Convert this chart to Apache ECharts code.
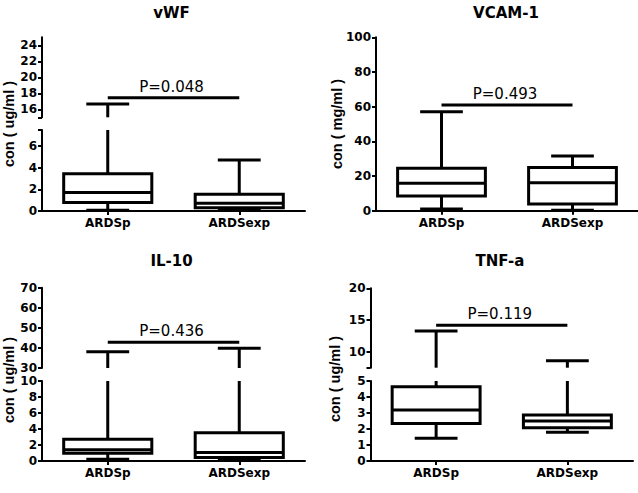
<!DOCTYPE html>
<html><head><meta charset="utf-8">
<script src="https://cdn.jsdelivr.net/npm/echarts@6/dist/echarts.min.js"></script>
<style>html,body{margin:0;padding:0;background:#fff}#c{width:638px;height:493px}</style>
</head><body><div id="c"></div>
<script>
const categories = ['ARDSp', 'ARDSexp'];
// each row: [min, Q1, median, Q3, max]
const vwfValues = [[0.07, 0.78, 1.71, 3.45, 16.66], [0.12, 0.3, 0.72, 1.56, 4.73]];
const vcamValues = [[1.0, 8.5, 15.8, 24.5, 57.1], [0.2, 3.9, 16.1, 24.9, 31.5]];
const il10Values = [[0.22, 0.96, 1.4, 2.73, 38.1], [0.19, 0.44, 1.05, 3.54, 39.8]];
const tnfValues = [[1.42, 2.35, 3.19, 4.64, 13.26], [1.79, 2.08, 2.5, 2.88, 8.6]];

const pLabels = ['P=0.048', 'P=0.493', 'P=0.436', 'P=0.119'];
const pLevels = [17.45, 61, 42.8, 14.2];

const vwfTopLabels = [16, 18, 20, 22, 24];
const vwfTopTicks = [15, 16, 18, 20, 22, 24];
const vwfBottomLabels = [0, 2, 4, 6];
const vwfBottomTicks = [0, 2, 4, 6, 7.5];
const vcamLabels = [0, 20, 40, 60, 80, 100];
const il10TopLabels = [30, 40, 50, 60, 70];
const il10BottomLabels = [0, 2, 4, 6, 8, 10];
const tnfTopLabels = [10, 15, 20];
const tnfTopTicks = [7.5, 10, 15, 20];
const tnfBottomLabels = [0, 1, 2, 3, 4, 5];

const titles = ['vWF', 'VCAM-1', 'IL-10', 'TNF-a'];
const yNames = ['con ( ug/ml )', 'con ( mg/ml )', 'con ( ug/ml )', 'con ( ug/ml )'];

// layout (pixels)
const panels = [
  {values: vwfValues, titleX: 171.5, titleY: 12.5, nameX: 9, nameY: 124, left: 42, width: 263,
   segs: [{top: 37.3, height: 80, min: 15, max: 25, labels: vwfTopLabels, ticks: vwfTopTicks},
          {top: 130, height: 81, min: 0, max: 7.5, labels: vwfBottomLabels, ticks: vwfBottomTicks}]},
  {values: vcamValues, titleX: 506, titleY: 12.5, nameX: 336.5, nameY: 124, left: 376, width: 262,
   segs: [{top: 37.3, height: 173.4, min: 0, max: 100, labels: vcamLabels, ticks: vcamLabels}]},
  {values: il10Values, titleX: 171.5, titleY: 261, nameX: 9, nameY: 380, left: 42, width: 263,
   segs: [{top: 287.7, height: 80.3, min: 30, max: 70, labels: il10TopLabels, ticks: il10TopLabels},
          {top: 381, height: 80, min: 0, max: 10, labels: il10BottomLabels, ticks: il10BottomLabels}]},
  {values: tnfValues, titleX: 500, titleY: 261, nameX: 334.7, nameY: 379, left: 370.5, width: 262.5,
   segs: [{top: 288.3, height: 79.4, min: 7.5, max: 20, labels: tnfTopLabels, ticks: tnfTopTicks},
          {top: 381, height: 80, min: 0, max: 5, labels: tnfBottomLabels, ticks: tnfBottomLabels}]}
];

const LABEL_FONT = 'DejaVu Sans';
const grid = [], xAxis = [], yAxis = [], series = [], graphic = [];

function boxRenderer(lo, hi) {
  return function (params, api) {
    const idx = api.value(0);
    const mn = api.value(1), q1 = api.value(2), md = api.value(3), q3 = api.value(4), mx = api.value(5);
    const band = api.size([1, 0])[0];
    const cx = api.coord([idx, lo])[0];
    const yOf = v => api.coord([idx, v])[1];
    const cl = v => Math.max(lo, Math.min(hi, v));
    const bw = band * 0.335, cw = band * 0.163;
    const children = [];
    const line = (x1, y1, x2, y2) => children.push({type: 'line', shape: {x1, y1, x2, y2},
      style: {stroke: '#000', lineWidth: 3}});
    if (q1 > lo && mn < hi) line(cx, yOf(cl(mn)), cx, yOf(cl(q1)));
    if (mn >= lo && mn <= hi) line(cx - cw, yOf(mn), cx + cw, yOf(mn));
    if (mx > lo && q3 < hi) line(cx, yOf(cl(q3)), cx, yOf(cl(mx)));
    if (mx >= lo && mx <= hi) line(cx - cw, yOf(mx), cx + cw, yOf(mx));
    if (q3 > lo && q1 < hi) {
      const yt = yOf(cl(q3)), yb = yOf(cl(q1));
      children.push({type: 'rect', shape: {x: cx - bw, y: yt, width: 2 * bw, height: yb - yt},
        style: {fill: '#fff', stroke: '#000', lineWidth: 3}});
    }
    if (md >= lo && md <= hi) line(cx - bw, yOf(md), cx + bw, yOf(md));
    return {type: 'group', children};
  };
}

function pRenderer(text) {
  return function (params, api) {
    const v = api.value(2);
    const p1 = api.coord([api.value(0), v]);
    const p2 = api.coord([api.value(1), v]);
    return {type: 'group', children: [
      {type: 'line', shape: {x1: p1[0], y1: p1[1], x2: p2[0], y2: p2[1]}, style: {stroke: '#000', lineWidth: 3}},
      {type: 'text', x: (p1[0] + p2[0]) / 2 - 2, y: p1[1] - 11,
       style: {text, fill: '#000', font: '15px "DejaVu Sans"', textAlign: 'center', textVerticalAlign: 'middle'}}
    ]};
  };
}

panels.forEach((pn, pi) => {
  graphic.push({type: 'text', x: pn.titleX, y: pn.titleY,
    style: {text: titles[pi], fill: '#000', font: 'bold 15px "DejaVu Sans"', textAlign: 'center', textVerticalAlign: 'middle'}});
  graphic.push({type: 'text', x: pn.nameX, y: pn.nameY, rotation: Math.PI / 2,
    style: {text: yNames[pi], fill: '#000', font: 'bold 14.5px "Liberation Sans"', textAlign: 'center', textVerticalAlign: 'middle'}});
  pn.segs.forEach((sg, si) => {
    const gi = grid.length;
    const isBottom = si === pn.segs.length - 1;
    grid.push({left: pn.left, top: sg.top, width: pn.width, height: sg.height});
    xAxis.push({type: 'category', data: categories, gridIndex: gi, show: isBottom, boundaryGap: true,
      axisLine: {show: true, lineStyle: {color: '#000', width: 2}},
      axisTick: {show: true, alignWithLabel: true, length: 4, lineStyle: {color: '#000', width: 2}},
      axisLabel: {color: '#000', fontFamily: LABEL_FONT, fontWeight: 'bold', fontSize: 12, margin: 6},
      splitLine: {show: false}});
    yAxis.push({type: 'value', gridIndex: gi, min: sg.min, max: sg.max,
      axisLine: {show: true, lineStyle: {color: '#000', width: 2}},
      axisTick: {show: true, length: 4, customValues: sg.ticks, lineStyle: {color: '#000', width: 2}},
      axisLabel: {show: true, customValues: sg.labels, color: '#000', fontFamily: LABEL_FONT, fontWeight: 'bold', fontSize: 12, margin: 5},
      splitLine: {show: false}});
    series.push({type: 'custom', xAxisIndex: gi, yAxisIndex: gi, renderItem: boxRenderer(sg.min, sg.max),
      data: pn.values.map((v, i) => [i].concat(v)), silent: true, z: 3});
    const pv = pLevels[pi];
    if (pv >= sg.min && pv <= sg.max) {
      series.push({type: 'custom', xAxisIndex: gi, yAxisIndex: gi, renderItem: pRenderer(pLabels[pi]),
        data: [[0, 1, pv]], silent: true, z: 4});
    }
  });
});

const chart = echarts.init(document.getElementById('c'), null, {renderer: 'svg'});
chart.setOption({backgroundColor: '#fff', animation: false, grid, xAxis, yAxis, series, graphic});
</script></body></html>
